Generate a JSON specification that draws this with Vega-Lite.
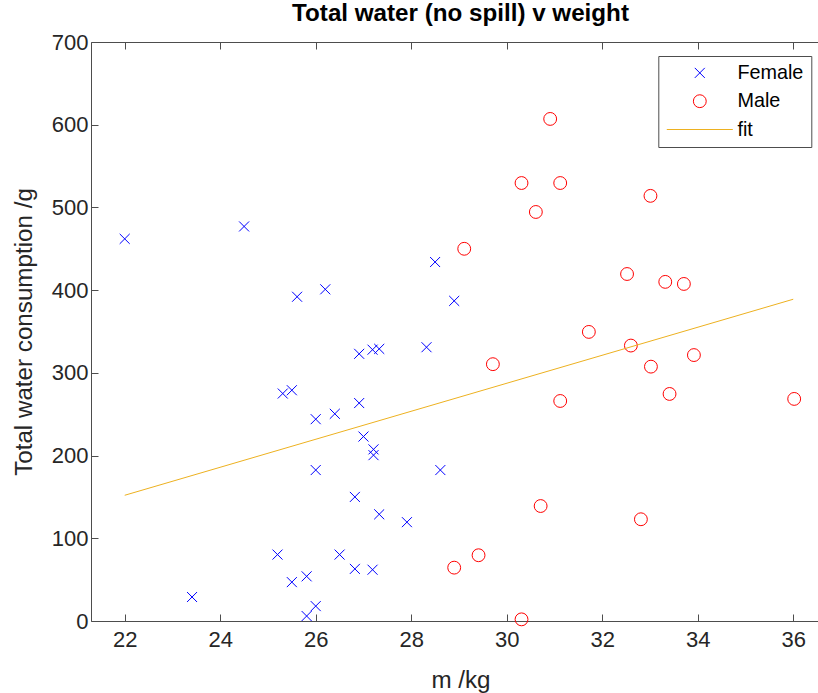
{
  "$schema": "https://vega.github.io/schema/vega-lite/v6.json",
  "width": 739,
  "height": 579,
  "autosize": {"type": "none"},
  "padding": {"left": 91, "top": 42, "right": 0, "bottom": 72},
  "background": "white",
  "title": {"text": "Total water (no spill) v weight", "font": "Liberation Sans", "fontSize": 24.2, "fontWeight": "bold", "color": "#000000", "anchor": "middle", "baseline": "alphabetic", "offset": 11.6, "dy": 25.7},
  "config": {
    "view": {"stroke": null},
    "axis": {"grid": false, "domainColor": "#4d4d4d", "domainWidth": 1, "tickColor": "#4d4d4d", "tickWidth": 1, "labelFont": "Liberation Sans", "labelFontSize": 22, "labelColor": "#262626", "titleFont": "Liberation Sans", "titleFontSize": 24.2, "titleColor": "#262626", "titleFontWeight": "normal"}
  },
  "datasets": {
    "points": [
      {"weight": 22.0, "water": 462, "group": "Female"},
      {"weight": 24.5, "water": 477, "group": "Female"},
      {"weight": 25.61, "water": 392, "group": "Female"},
      {"weight": 26.2, "water": 401, "group": "Female"},
      {"weight": 28.5, "water": 434, "group": "Female"},
      {"weight": 28.9, "water": 387, "group": "Female"},
      {"weight": 26.91, "water": 323, "group": "Female"},
      {"weight": 27.19, "water": 328, "group": "Female"},
      {"weight": 27.33, "water": 329, "group": "Female"},
      {"weight": 28.32, "water": 331, "group": "Female"},
      {"weight": 25.31, "water": 275, "group": "Female"},
      {"weight": 25.5, "water": 279, "group": "Female"},
      {"weight": 26.91, "water": 263.5, "group": "Female"},
      {"weight": 26.0, "water": 244, "group": "Female"},
      {"weight": 26.4, "water": 250.5, "group": "Female"},
      {"weight": 27.0, "water": 223, "group": "Female"},
      {"weight": 27.21, "water": 207.5, "group": "Female"},
      {"weight": 27.21, "water": 200.5, "group": "Female"},
      {"weight": 26.0, "water": 182.5, "group": "Female"},
      {"weight": 28.61, "water": 182.5, "group": "Female"},
      {"weight": 26.82, "water": 150, "group": "Female"},
      {"weight": 27.33, "water": 129, "group": "Female"},
      {"weight": 27.91, "water": 119.5, "group": "Female"},
      {"weight": 25.2, "water": 80.3, "group": "Female"},
      {"weight": 26.5, "water": 80.3, "group": "Female"},
      {"weight": 26.82, "water": 63, "group": "Female"},
      {"weight": 27.19, "water": 62, "group": "Female"},
      {"weight": 25.81, "water": 54, "group": "Female"},
      {"weight": 25.5, "water": 47, "group": "Female"},
      {"weight": 23.41, "water": 29, "group": "Female"},
      {"weight": 26.0, "water": 18, "group": "Female"},
      {"weight": 25.81, "water": 6, "group": "Female"},
      {"weight": 30.91, "water": 607, "group": "Male"},
      {"weight": 30.31, "water": 529.5, "group": "Male"},
      {"weight": 31.12, "water": 529.5, "group": "Male"},
      {"weight": 30.61, "water": 494.5, "group": "Male"},
      {"weight": 33.01, "water": 514, "group": "Male"},
      {"weight": 29.11, "water": 450, "group": "Male"},
      {"weight": 32.52, "water": 419.5, "group": "Male"},
      {"weight": 33.32, "water": 410, "group": "Male"},
      {"weight": 33.71, "water": 407.5, "group": "Male"},
      {"weight": 31.72, "water": 349.5, "group": "Male"},
      {"weight": 32.6, "water": 333, "group": "Male"},
      {"weight": 29.71, "water": 310.5, "group": "Male"},
      {"weight": 33.02, "water": 307.5, "group": "Male"},
      {"weight": 33.92, "water": 321.5, "group": "Male"},
      {"weight": 31.12, "water": 266, "group": "Male"},
      {"weight": 33.41, "water": 274.5, "group": "Male"},
      {"weight": 36.02, "water": 268.5, "group": "Male"},
      {"weight": 30.71, "water": 139, "group": "Male"},
      {"weight": 32.81, "water": 123, "group": "Male"},
      {"weight": 29.41, "water": 79.5, "group": "Male"},
      {"weight": 28.9, "water": 64.5, "group": "Male"},
      {"weight": 30.31, "water": 2, "group": "Male"}
    ],
    "fit": [
      {"weight": 22, "water": 152, "group": "fit"},
      {"weight": 36, "water": 389, "group": "fit"}
    ]
  },
  "layer": [
    {
      "data": {"name": "points"},
      "mark": {"type": "point", "filled": false, "size": 165, "strokeWidth": 1, "opacity": 1},
      "encoding": {
        "x": {"field": "weight", "type": "quantitative",
          "scale": {"domain": [21.294, 36.77], "nice": false, "zero": false},
          "axis": {"orient": "bottom", "values": [22, 24, 26, 28, 30, 32, 34, 36], "tickSize": -7, "labelPadding": 15, "labelFlush": false, "labelOverlap": false, "title": "m /kg", "titleY": 66, "titleBaseline": "alphabetic"}},
        "y": {"field": "water", "type": "quantitative",
          "scale": {"domain": [0, 700], "nice": false, "zero": false},
          "axis": {"orient": "left", "values": [0, 100, 200, 300, 400, 500, 600, 700], "tickSize": -7, "labelPadding": 10, "labelFlush": false, "labelOverlap": false, "title": "Total water consumption /g", "titleX": -60, "titleBaseline": "alphabetic"}},
        "color": {"field": "group", "type": "nominal",
          "scale": {"domain": ["Female", "Male", "fit"], "range": ["#0000FF", "#FF0000", "#EDB120"]},
          "legend": {"orient": "none", "legendX": 567.3, "legendY": 14, "title": null, "direction": "vertical", "columns": 1, "padding": 7, "strokeColor": "#4d4d4d", "fillColor": "white", "labelFont": "Liberation Sans", "labelFontSize": 19.8, "labelColor": "#000000", "symbolSize": 165, "symbolStrokeWidth": 1, "symbolOffset": 24.6, "labelOffset": 27.7, "rowPadding": 7.3, "symbolFillColor": "transparent"}},
        "shape": {"field": "group", "type": "nominal",
          "scale": {"domain": ["Female", "Male", "fit"], "range": ["M-0.78,-0.78L0.78,0.78M0.78,-0.78L-0.78,0.78", "circle", "M-5.14,0L5.14,0"]},
          "legend": {"orient": "none", "legendX": 567.3, "legendY": 14, "title": null, "direction": "vertical", "columns": 1, "padding": 7, "strokeColor": "#4d4d4d", "fillColor": "white", "labelFont": "Liberation Sans", "labelFontSize": 19.8, "labelColor": "#000000", "symbolSize": 165, "symbolStrokeWidth": 1, "symbolOffset": 24.6, "labelOffset": 27.7, "rowPadding": 7.3, "symbolFillColor": "transparent"}}
      }
    },
    {
      "data": {"name": "fit"},
      "mark": {"type": "line", "strokeWidth": 1},
      "encoding": {
        "x": {"field": "weight", "type": "quantitative",
          "axis": {"orient": "top", "values": [22, 24, 26, 28, 30, 32, 34, 36], "tickSize": -7, "labels": false, "title": null}},
        "y": {"field": "water", "type": "quantitative",
          "axis": {"orient": "right", "values": [0, 100, 200, 300, 400, 500, 600, 700], "tickSize": -7, "labels": false, "title": null}},
        "color": {"field": "group", "type": "nominal"}
      }
    }
  ]
}
